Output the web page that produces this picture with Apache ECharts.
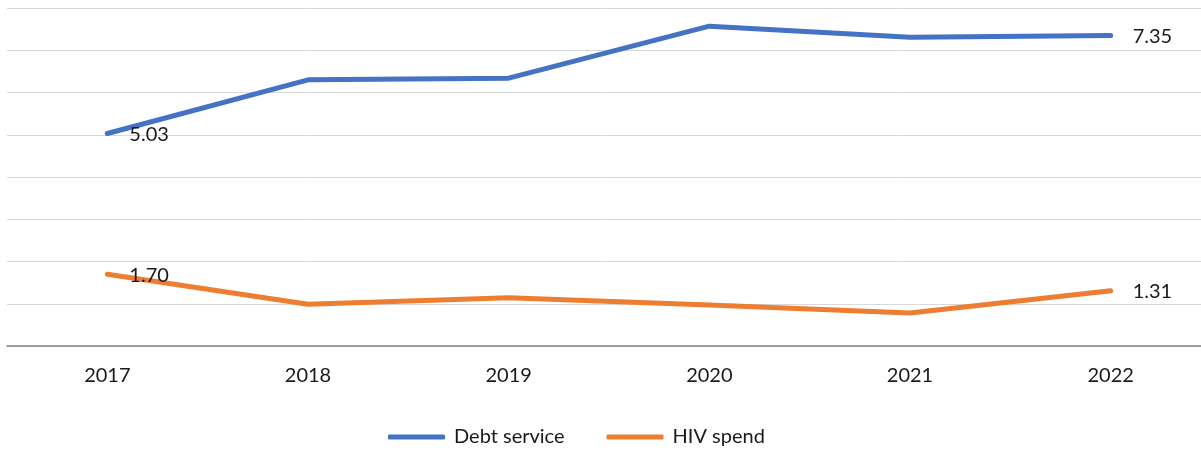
<!DOCTYPE html>
<html>
<head>
<meta charset="utf-8">
<style>
  html, body { margin: 0; padding: 0; background: #ffffff; }
  #chart { width: 1201px; height: 452px; }
</style>
<script src="https://cdn.jsdelivr.net/npm/echarts@6/dist/echarts.min.js"></script>
</head>
<body>
<div id="chart"></div>
<script>
// Years on the category axis
const years = ['2017', '2018', '2019', '2020', '2021', '2022'];
// Debt service and HIV spend per year
const debtService = [5.03, 6.30, 6.34, 7.57, 7.31, 7.35];
const hivSpend = [1.70, 0.99, 1.14, 0.97, 0.78, 1.31];
// Names shown in the legend
const seriesNames = ['Debt service', 'HIV spend'];

const FONT = 'Lato, "Noto Sans", sans-serif';
const TEXT = '#1a1a1a';
const lastIdx = years.length - 1;

// Only the first and last point of each line carry a value label
function endLabels(values) {
  return values.map(function (v, i) {
    if (i === 0 || i === lastIdx) {
      return { value: v, label: { show: true } };
    }
    return v;
  });
}

const chart = echarts.init(document.getElementById('chart'), null, { renderer: 'canvas' });

const lineSeries = function (name, values, color) {
  return {
    name: name,
    type: 'line',
    data: endLabels(values),
    symbol: 'circle',
    symbolSize: 0,
    showSymbol: true,
    smooth: false,
    lineStyle: { color: color, width: 5, cap: 'round', join: 'round' },
    itemStyle: { color: color },
    label: {
      show: false,
      position: 'right',
      distance: 22,
      offset: [0, 1],
      color: TEXT,
      fontFamily: FONT,
      fontSize: 20,
      formatter: function (p) { return p.value.toFixed(2); }
    },
    emphasis: { disabled: true }
  };
};

chart.setOption({
  animation: false,
  backgroundColor: '#ffffff',
  grid: {
    left: 7, top: 8, right: -10, height: 338,
    containLabel: false,
    outerBoundsMode: 'none'
  },
  legend: {
    data: seriesNames,
    top: 422,
    left: 383,
    itemWidth: 57,
    itemHeight: 5,
    itemGap: 42,
    icon: 'roundRect',
    textStyle: { color: TEXT, fontFamily: FONT, fontSize: 20, padding: [0, 0, 0, 4] }
  },
  xAxis: {
    type: 'category',
    data: years,
    boundaryGap: true,
    axisLine: { show: true, lineStyle: { color: '#808080', width: 1.5 } },
    axisTick: { show: false },
    axisLabel: { color: TEXT, fontFamily: FONT, fontSize: 20, margin: 19.5 },
    splitLine: { show: false }
  },
  yAxis: {
    type: 'value',
    min: 0,
    max: 8,
    interval: 1,
    axisLine: { show: false },
    axisTick: { show: false },
    axisLabel: { show: false },
    splitLine: { show: true, lineStyle: { color: '#d9d9d9', width: 1 } }
  },
  series: [
    lineSeries(seriesNames[0], debtService, '#4472c4'),
    lineSeries(seriesNames[1], hivSpend, '#ed7d31')
  ]
});
</script>
</body>
</html>
